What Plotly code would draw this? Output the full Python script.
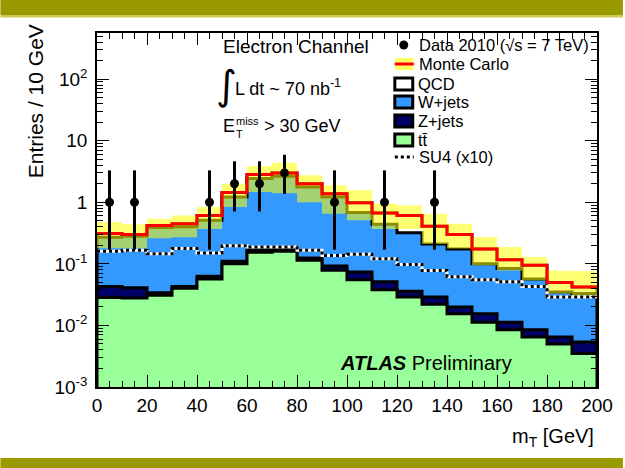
import plotly.graph_objects as go

# ---------------- data ----------------
bin_edges = list(range(0, 210, 10))          # m_T bins [GeV]

ttbar  = [0.0285, 0.028, 0.031, 0.040, 0.057, 0.100, 0.155, 0.160, 0.114, 0.079,
          0.055, 0.038, 0.029, 0.022, 0.0155, 0.0113, 0.0085, 0.0065, 0.0050, 0.0035]
zjets  = [0.0145, 0.013, 0.003, 0.003, 0.006, 0.010, 0.015, 0.015, 0.011, 0.013,
          0.019, 0.013, 0.007, 0.007, 0.0045, 0.0042, 0.0028, 0.0020, 0.0015, 0.0019]
wjets  = [0.227, 0.239, 0.356, 0.357, 0.447, 1.11, 2.26, 2.475, 1.645, 1.128,
          0.606, 0.389, 0.284, 0.181, 0.155, 0.0845, 0.0727, 0.0485, 0.0285, 0.0276]
qcd    = [0.040, 0.020, 0.030, 0.050, 0.100, 0.22, 0.39, 0.35, 0.23, 0.16,
          0.30, 0.23, 0.29, 0.20, 0.125, 0.075, 0.033, 0.038, 0.015, 0.009]

mc_band_hi = [0.48, 0.44, 0.54, 0.61, 0.84, 2.0, 3.9, 4.4, 2.75, 1.89,
              1.57, 0.95, 0.89, 0.65, 0.45, 0.27, 0.188, 0.129, 0.078, 0.076]
mc_band_lo = [0.18, 0.18, 0.26, 0.27, 0.37, 0.84, 1.47, 1.40, 1.00, 0.65,
              0.51, 0.37, 0.37, 0.21, 0.177, 0.095, 0.078, 0.054, 0.033, 0.030]

su4_x10 = [0.160, 0.166, 0.146, 0.177, 0.150, 0.197, 0.188, 0.188, 0.166, 0.137,
           0.143, 0.121, 0.098, 0.078, 0.062, 0.055, 0.051, 0.043, 0.029, 0.029]

data_x     = [5, 15, 45, 55, 65, 75, 95, 115, 135]
data_y     = [1, 1, 1, 2, 2, 3, 1, 1, 1]
data_up    = [3.30, 3.30, 3.30, 4.64, 4.64, 5.92, 3.30, 3.30, 3.30]
data_down  = [0.17, 0.17, 0.17, 0.71, 0.71, 1.37, 0.17, 0.17, 0.17]

x_ticks = list(range(0, 220, 20))
y_tickvals = [1e-3, 1e-2, 1e-1, 1, 10, 100]
y_ticktext = ["10<sup>-3</sup>", "10<sup>-2</sup>", "10<sup>-1</sup>", "1", "10", "10<sup>2</sup>"]

# ---------------- helpers ----------------
FLOOR = 1e-6
FONT = "Liberation Sans, Arial, Helvetica, sans-serif"

def cumulate(*parts):
    out, run = [], [0.0] * len(parts[0])
    for p in parts:
        run = [a + b for a, b in zip(run, p)]
        out.append(run)
    return out

def steps(vals):
    xs, ys = [], []
    for i, v in enumerate(vals):
        xs += [bin_edges[i], bin_edges[i + 1]]
        ys += [v, v]
    return xs, ys

c_tt, c_z, c_w, c_tot = cumulate(ttbar, zjets, wjets, qcd)

fig = go.Figure()

def add_filled(vals, color):
    xs, ys = steps(vals)
    fig.add_trace(go.Scatter(x=xs + [bin_edges[-1], bin_edges[0]], y=ys + [FLOOR, FLOOR],
                             fill="toself", fillcolor=color, mode="lines",
                             line=dict(width=0), hoverinfo="skip", showlegend=False))

def add_outline(vals, color, width, dash="solid"):
    xs, ys = steps(vals)
    fig.add_trace(go.Scatter(x=[bin_edges[0]] + xs + [bin_edges[-1]], y=[FLOOR] + ys + [FLOOR],
                             mode="lines", line=dict(color=color, width=width, dash=dash),
                             hoverinfo="skip", showlegend=False))

GREEN = "#99ff99"
BLUE = "#3399ff"
NAVY = "#000066"

for vals, col in [(c_tot, "white"), (c_w, BLUE), (c_z, NAVY), (c_tt, GREEN)]:
    add_filled(vals, col)
    add_outline(vals, "black", 3)

# MC uncertainty band
xh, yh = steps(mc_band_hi)
xl, yl = steps(mc_band_lo)
fig.add_trace(go.Scatter(x=xh + xl[::-1], y=yh + yl[::-1], fill="toself",
                         fillcolor="rgba(255,255,0,0.55)", mode="lines", line=dict(width=0),
                         hoverinfo="skip", showlegend=False))

# total MC red line
xs, ys = steps(c_tot)
fig.add_trace(go.Scatter(x=xs, y=ys, mode="lines", line=dict(color="red", width=3),
                         hoverinfo="skip", showlegend=False))

# SU4 (x10) dotted line
xs, ys = steps(su4_x10)
fig.add_trace(go.Scatter(x=xs, y=ys, mode="lines", line=dict(color="white", width=3),
                         hoverinfo="skip", showlegend=False))
fig.add_trace(go.Scatter(x=xs, y=ys, mode="lines", line=dict(color="black", width=3, dash="3px,3px"),
                         hoverinfo="skip", showlegend=False))

# data
fig.add_trace(go.Scatter(
    x=data_x, y=data_y, mode="markers",
    marker=dict(color="black", size=9),
    error_y=dict(type="data", symmetric=False,
                 array=[u - v for u, v in zip(data_up, data_y)],
                 arrayminus=[v - d for v, d in zip(data_y, data_down)],
                 color="black", thickness=3, width=0),
    hoverinfo="skip", showlegend=False))

# ---------------- layout ----------------
L, R, T, B = 97, 26, 33, 81
W, H = 625, 468
PW, PH = W - L - R, H - T - B

def px(x):
    return (x - L) / PW

def py(y):
    return (H - B - y) / PH

minor_y = [d * 10 ** k for k in range(-3, 3) for d in range(2, 10)]

fig.update_layout(
    width=W, height=H,
    margin=dict(l=L, r=R, t=T, b=B),
    paper_bgcolor="white", plot_bgcolor="white",
    font=dict(family=FONT, color="black", size=19),
    xaxis=dict(range=[0, 200], tickmode="array", tickvals=x_ticks,
               ticks="inside", ticklen=12, tickwidth=1, tickcolor="black",
               showline=True, linecolor="black", linewidth=1.5, mirror="allticks",
               showgrid=False, zeroline=False, tickfont=dict(size=19),
               minor=dict(ticks="inside", ticklen=6, dtick=5, tickcolor="black", showgrid=False)),
    yaxis=dict(type="log", range=[-3, 2.75], tickmode="array",
               tickvals=y_tickvals, ticktext=y_ticktext,
               ticks="inside", ticklen=12, tickwidth=1, tickcolor="black",
               showline=True, linecolor="black", linewidth=1.5, mirror="allticks",
               showgrid=False, zeroline=False, tickfont=dict(size=19), ticklabelstandoff=4,
               minor=dict(ticks="inside", ticklen=6, tickmode="array", tickvals=minor_y,
                          tickcolor="black", showgrid=False)),
)

shapes = []
ann = []

# olive bars
shapes.append(dict(type="rect", xref="paper", yref="paper", x0=px(0), x1=px(W), y0=py(15), y1=py(0),
                   fillcolor="#999900", line=dict(width=0), layer="above"))
shapes.append(dict(type="rect", xref="paper", yref="paper", x0=px(0), x1=px(W), y0=py(17.5), y1=py(15),
                   fillcolor="#cccc55", line=dict(width=0), layer="above"))
shapes.append(dict(type="rect", xref="paper", yref="paper", x0=px(0), x1=px(W), y0=py(H), y1=py(458),
                   fillcolor="#999900", line=dict(width=0), layer="above"))

def text(x, y, s, size=16, xanchor="left", yanchor="middle", **kw):
    ann.append(dict(x=px(x), y=py(y), xref="paper", yref="paper", text=s, showarrow=False,
                    xanchor=xanchor, yanchor=yanchor, font=dict(size=size, family=kw.pop("family", FONT),
                    color="black"), **kw))

# axis titles
text(35, 22, "Entries / 10 GeV", size=21, xanchor="center", yanchor="top", textangle=-90)
text(598, 437, "m<sub>T</sub> [GeV]", size=20, xanchor="right")

# left info text
text(221, 46, "Electron Channel", size=19)
text(227, 85, "∫", size=40, xanchor="center", family="DejaVu Sans, sans-serif")
text(234, 87, "L dt ~ 70 nb<sup>-1</sup>", size=18)
text(221, 126, "E", size=18)
text(235, 121, "miss", size=11)
text(235, 134, "T", size=11)
text(263, 126, "> 30 GeV", size=18)

# ATLAS label
text(339, 363, "<b><i>ATLAS</i></b> Preliminary", size=20)

# legend
LX0, LX1 = 396, 414
shapes.append(dict(type="circle", xref="paper", yref="paper", x0=px(400.5), x1=px(409.5),
                   y0=py(49.5), y1=py(40.5), fillcolor="black", line=dict(width=0)))
text(418, 45, "Data 2010 (√s = 7 TeV)", size=16.5)

shapes.append(dict(type="rect", xref="paper", yref="paper", x0=px(LX0), x1=px(LX1 + 1),
                   y0=py(70), y1=py(58), fillcolor="rgba(255,255,0,0.6)", line=dict(width=0)))
shapes.append(dict(type="line", xref="paper", yref="paper", x0=px(LX0), x1=px(LX1 + 1),
                   y0=py(64), y1=py(64), line=dict(color="red", width=3)))
text(418, 64, "Monte Carlo", size=16.5)

for yc, col, lab in [(84, "white", "QCD"), (102, BLUE, "W+jets"),
                     (121, NAVY, "Z+jets"), (140, GREEN, "tt\u0304")]:
    shapes.append(dict(type="rect", xref="paper", yref="paper", x0=px(LX0), x1=px(LX1),
                       y0=py(yc + 6), y1=py(yc - 6), fillcolor=col,
                       line=dict(color="black", width=3)))
    text(417, yc, lab, size=16.5)

shapes.append(dict(type="line", xref="paper", yref="paper", x0=px(LX0), x1=px(LX1 + 1),
                   y0=py(157), y1=py(157), line=dict(color="black", width=3, dash="3px,3px")))
text(418, 157, "SU4 (x10)", size=16.5)

fig.update_layout(shapes=shapes, annotations=ann)

fig.write_html("out.html", config={"displayModeBar": False},
               post_script="document.body.style.margin='0px';")
